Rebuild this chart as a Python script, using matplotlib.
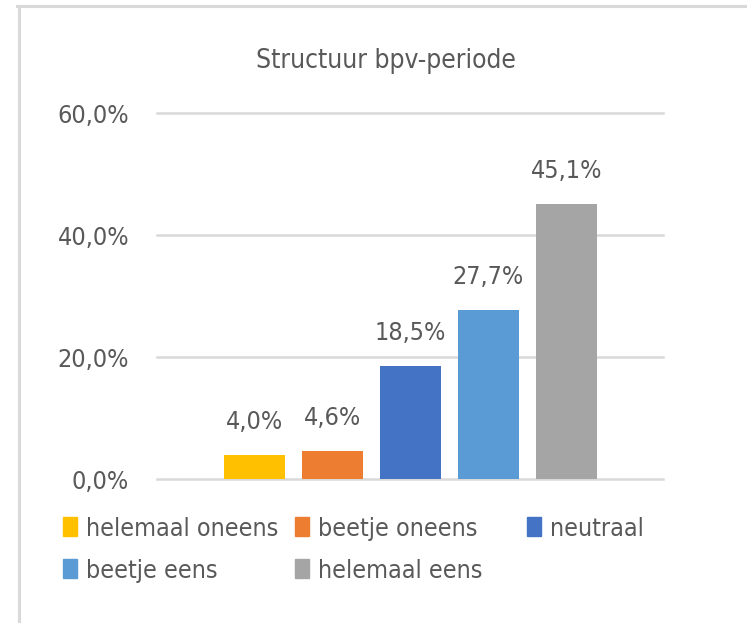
import matplotlib.pyplot as plt
from matplotlib.patches import Rectangle
from matplotlib.lines import Line2D

# data
categories = ["helemaal oneens", "beetje oneens", "neutraal", "beetje eens", "helemaal eens"]
values = [4.0, 4.6, 18.5, 27.7, 45.1]
colors = ["#FFC000", "#ED7D31", "#4472C4", "#5B9BD5", "#A5A5A5"]
yticks = [0, 20, 40, 60]
title = "Structuur bpv-periode"

W, H = 747, 623
TXT = "#595959"
FS = 18
plt.rcParams['font.family'] = ['DejaVu Sans']
plt.rcParams['font.stretch'] = 'condensed'

def fx(px):
    return px / W

def fy(py):
    return 1 - py / H

fig = plt.figure(figsize=(W / 100, H / 100), dpi=100)
ax = fig.add_axes([fx(157), fy(479), fx(663) - fx(157), fy(113) - fy(479)])

xs = list(range(len(values)))
bars = ax.bar(xs, values, width=0.78, color=colors, zorder=3)
ax.bar_label(bars, labels=[f"{v:.1f}%".replace(".", ",") for v in values],
             padding=15, fontsize=FS, color=TXT)

ax.set_xlim(-1.25, 4 + 1.24)
ax.set_ylim(0, 60)
ax.set_yticks(yticks)
ax.set_yticklabels([f"{t:.1f}%".replace(".", ",") for t in yticks])
ax.tick_params(axis='y', length=0, pad=20, labelsize=FS, labelcolor=TXT)
ax.set_xticks([])
for s in ax.spines.values():
    s.set_visible(False)
ax.yaxis.grid(True, color="#D9D9D9", linewidth=1.8)
ax.set_axisbelow(True)
for gl in ax.get_ygridlines():
    gl.set_clip_on(False)

fig.text(fx(386), fy(68), title, ha='center', va='baseline', fontsize=18.9, color=TXT)

# legend, three equal columns, filled row by row
for i, (lab, c) in enumerate(zip(categories, colors)):
    row, col = divmod(i, 3)
    x0 = 63 + col * 232
    ybot = 536 + row * 42
    fig.patches.append(Rectangle((fx(x0), fy(ybot)), fx(14), 19 / H,
                                 transform=fig.transFigure, color=c))
    fig.text(fx(x0 + 23), fy(ybot), lab, ha='left', va='baseline',
             fontsize=FS, color=TXT)

# chart border
fig.add_artist(Line2D([fx(18.5), fx(18.5)], [fy(5.5), 0], transform=fig.transFigure,
                      color="#D9D9D9", linewidth=2.2))
fig.add_artist(Line2D([fx(17.4), 1], [fy(5.5), fy(5.5)], transform=fig.transFigure,
                      color="#D9D9D9", linewidth=2.2))

fig.savefig("out.png", dpi=100)
